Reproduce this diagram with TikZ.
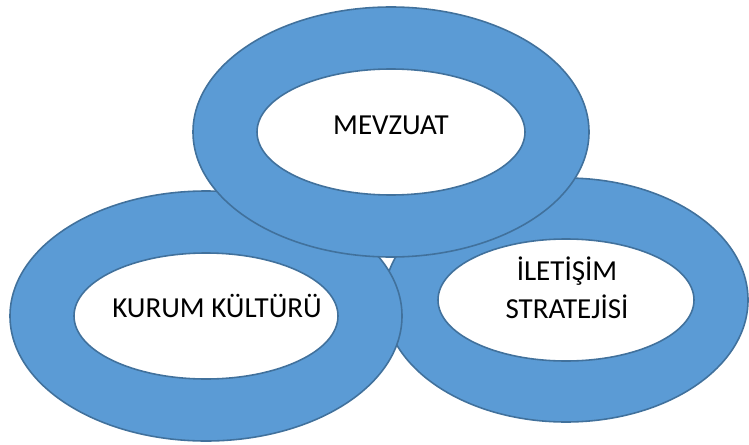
\documentclass[tikz,border=0pt]{standalone}
\usepackage{fontspec}
\setmainfont{Carlito}
\usetikzlibrary{positioning}
\definecolor{ringblue}{HTML}{5B9BD5}
\definecolor{ringline}{HTML}{41719C}
\tikzset{
  ring/.style={fill=ringblue,draw=ringline,line width=0.9pt},
  hole/.style={fill=white,draw=ringline,line width=0.9pt},
  label/.style={font=\fontsize{16.5}{21.5}\selectfont,text=black,align=center,inner sep=0pt}
}
\begin{document}
\begin{tikzpicture}
\useasboundingbox (0,0) rectangle (14.98,8.88);
% back ring
\draw[ring] (11.32,2.88) ellipse (3.64 and 2.44);
\draw[hole] (11.32,2.88) ellipse (2.56 and 1.22);
% left ring
\draw[ring] (4.12,2.56) ellipse (3.92 and 2.50);
\draw[hole] (4.12,2.56) ellipse (2.64 and 1.26);
% top ring
\draw[ring] (7.82,6.24) ellipse (3.96 and 2.50);
\draw[hole] (7.82,6.24) ellipse (2.68 and 1.26);

\node[label] (mevzuat) at (7.82,6.38) {MEVZUAT};
\node[label] (kultur) at (4.34,2.76) {KURUM KÜLTÜRÜ};
\node[label] (iletisim) at (11.34,3.12) {İLETİŞİM\\STRATEJİSİ};
\end{tikzpicture}
\end{document}
